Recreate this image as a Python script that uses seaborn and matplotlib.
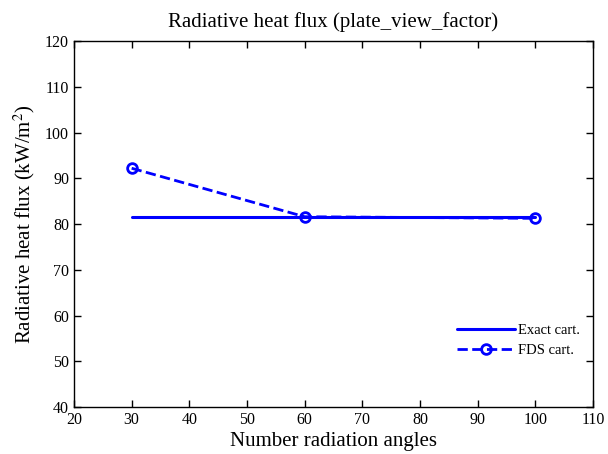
import numpy as np
import pandas as pd
import matplotlib
matplotlib.use('Agg')
import matplotlib.pyplot as plt
import seaborn as sns

# data
angles = [30, 60, 100]
exact_flux = [81.6, 81.6, 81.6]
fds_flux = [92.2, 81.6, 81.25]

sns.set_theme(style='ticks')
plt.rcParams['font.family'] = ['Liberation Serif', 'DejaVu Serif']
plt.rcParams['mathtext.fontset'] = 'stix'
plt.rcParams['text.color'] = 'black'
plt.rcParams['axes.labelcolor'] = 'black'

df = pd.DataFrame({'angles': angles, 'exact': exact_flux, 'fds': fds_flux})

fig = plt.figure(figsize=(6.08, 4.54), dpi=100)
ax = fig.add_axes([0.1217, 0.1035, 0.8536, 0.806])

sns.lineplot(data=df, x='angles', y='exact', ax=ax, color='blue', lw=2.2,
             label='Exact cart.')
sns.lineplot(data=df, x='angles', y='fds', ax=ax, color='blue', lw=2,
             marker='o', markersize=7, markerfacecolor='none',
             markeredgecolor='blue', markeredgewidth=2,
             label='FDS cart.')
ax.lines[-1].set_linestyle('--')

ax.set_xlim(20, 110)
ax.set_ylim(40, 120)
ax.set_xticks(np.arange(20, 111, 10))
ax.set_yticks(np.arange(40, 121, 10))
ax.tick_params(direction='in', top=True, right=True, length=5, width=1,
               labelsize=11.5, colors='black')
for s in ax.spines.values():
    s.set_visible(True)
    s.set_linewidth(1)
    s.set_color('black')

ax.set_title('Radiative heat flux (plate_view_factor)', fontsize=15, pad=10,
             color='black')
ax.set_xlabel('Number radiation angles', fontsize=15, labelpad=3)
ax.set_ylabel('Radiative heat flux (kW/m$^2$)', fontsize=15, labelpad=6)

leg = ax.legend(loc='lower right', frameon=False, fontsize=10.5,
                bbox_to_anchor=(1.0, 0.1), handlelength=4, handletextpad=0.2,
                labelspacing=0.5)
leg.get_lines()[1].set_linestyle('--')

fig.savefig('out.png', dpi=100)
